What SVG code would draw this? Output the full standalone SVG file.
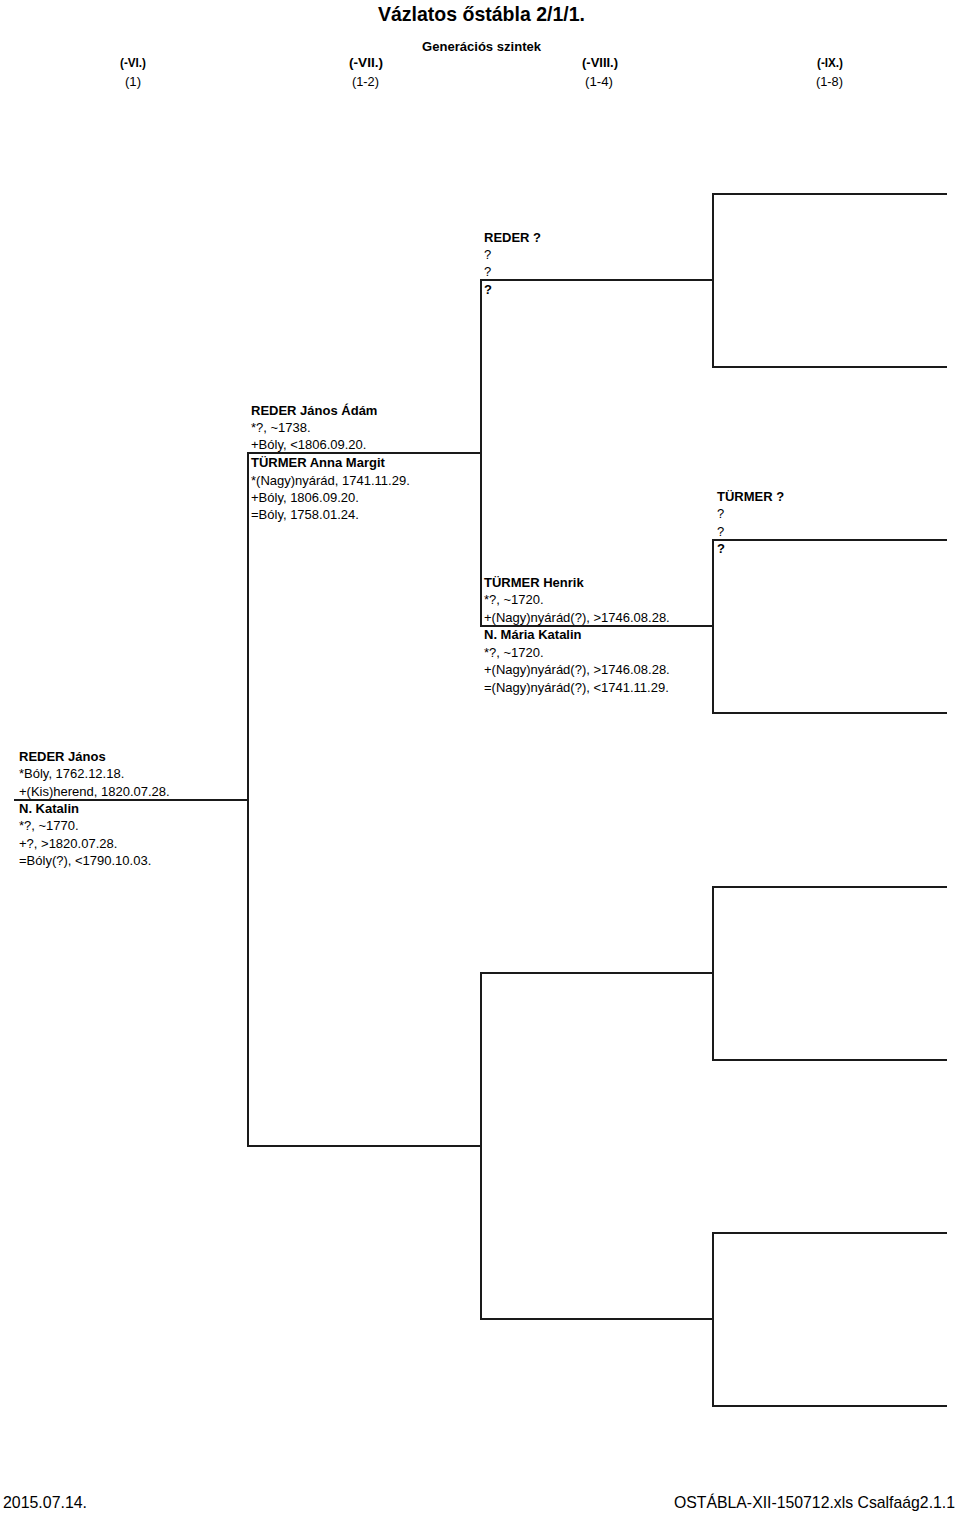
<svg xmlns="http://www.w3.org/2000/svg" width="960" height="1514" viewBox="0 0 960 1514">
<style>
text{font-family:"Liberation Sans",Arial,sans-serif;font-size:13px;fill:#000}
.b{font-weight:bold}
.h{font-size:13.5px}
.t{font-size:21px;font-weight:bold}
.f{font-size:17px}
.ln{fill:none;stroke:#1a1a1a;stroke-width:2;stroke-linecap:square}
</style>
<rect width="960" height="1514" fill="#fff"/>
<g id="header">
<text class="t" x="378" y="21" textLength="207" lengthAdjust="spacingAndGlyphs">Vázlatos őstábla 2/1/1.</text>
<text class="b h" x="422" y="51" textLength="119" lengthAdjust="spacingAndGlyphs">Generációs szintek</text>
<text class="b h" x="120" y="67" textLength="26" lengthAdjust="spacingAndGlyphs">(-VI.)</text>
<text class="h" x="125" y="86" textLength="16" lengthAdjust="spacingAndGlyphs">(1)</text>
<text class="b h" x="349" y="67" textLength="34" lengthAdjust="spacingAndGlyphs">(-VII.)</text>
<text class="h" x="352" y="86" textLength="27" lengthAdjust="spacingAndGlyphs">(1-2)</text>
<text class="b h" x="582" y="67" textLength="36" lengthAdjust="spacingAndGlyphs">(-VIII.)</text>
<text class="h" x="585" y="86" textLength="28" lengthAdjust="spacingAndGlyphs">(1-4)</text>
<text class="b h" x="817" y="67" textLength="26" lengthAdjust="spacingAndGlyphs">(-IX.)</text>
<text class="h" x="816" y="86" textLength="27" lengthAdjust="spacingAndGlyphs">(1-8)</text>
</g>
<g id="connectors" class="ln">
<path d="M15 800H248"/>
<path d="M248 453V1146"/>
<path d="M248 453H481"/>
<path d="M248 1146H481"/>
<path d="M481 280V626"/>
<path d="M481 280H713"/>
<path d="M481 626H713"/>
<path d="M946 194H713V367H946"/>
<path d="M946 540H713V713H946"/>
<path d="M481 973V1319"/>
<path d="M481 973H713"/>
<path d="M481 1319H713"/>
<path d="M946 887H713V1060H946"/>
<path d="M946 1233H713V1406H946"/>
</g>
<g id="node-reder-janos">
<text class="b" x="19" y="761">REDER János</text>
<text x="19" y="778">*Bóly, 1762.12.18.</text>
<text x="19" y="795.5">+(Kis)herend, 1820.07.28.</text>
<text class="b" x="19" y="813">N. Katalin</text>
<text x="19" y="830">*?, ~1770.</text>
<text x="19" y="847.5">+?, &gt;1820.07.28.</text>
<text x="19" y="865">=Bóly(?), &lt;1790.10.03.</text>
</g>
<g id="node-reder-janos-adam">
<text class="b" x="251" y="415">REDER János Ádám</text>
<text x="251" y="432">*?, ~1738.</text>
<text x="251" y="449">+Bóly, &lt;1806.09.20.</text>
<text class="b" x="251" y="467">TÜRMER Anna Margit</text>
<text x="251" y="484.5">*(Nagy)nyárád, 1741.11.29.</text>
<text x="251" y="501.5">+Bóly, 1806.09.20.</text>
<text x="251" y="519">=Bóly, 1758.01.24.</text>
</g>
<g id="node-reder-q">
<text class="b" x="484" y="242">REDER ?</text>
<text x="484" y="259">?</text>
<text x="484" y="276">?</text>
<text class="b" x="484" y="293.5">?</text>
</g>
<g id="node-turmer-henrik">
<text class="b" x="484" y="587">TÜRMER Henrik</text>
<text x="484" y="604">*?, ~1720.</text>
<text x="484" y="621.5">+(Nagy)nyárád(?), &gt;1746.08.28.</text>
<text class="b" x="484" y="639">N. Mária Katalin</text>
<text x="484" y="656.5">*?, ~1720.</text>
<text x="484" y="674">+(Nagy)nyárád(?), &gt;1746.08.28.</text>
<text x="484" y="691.5">=(Nagy)nyárád(?), &lt;1741.11.29.</text>
</g>
<g id="node-turmer-q">
<text class="b" x="717" y="501">TÜRMER ?</text>
<text x="717" y="518">?</text>
<text x="717" y="535.5">?</text>
<text class="b" x="717" y="553">?</text>
</g>
<g id="footer">
<text class="f" x="3" y="1508" textLength="84" lengthAdjust="spacingAndGlyphs">2015.07.14.</text>
<text class="f" x="955" y="1508" text-anchor="end" textLength="281" lengthAdjust="spacingAndGlyphs">OSTÁBLA-XII-150712.xls Csalfaág2.1.1</text>
</g>
</svg>
